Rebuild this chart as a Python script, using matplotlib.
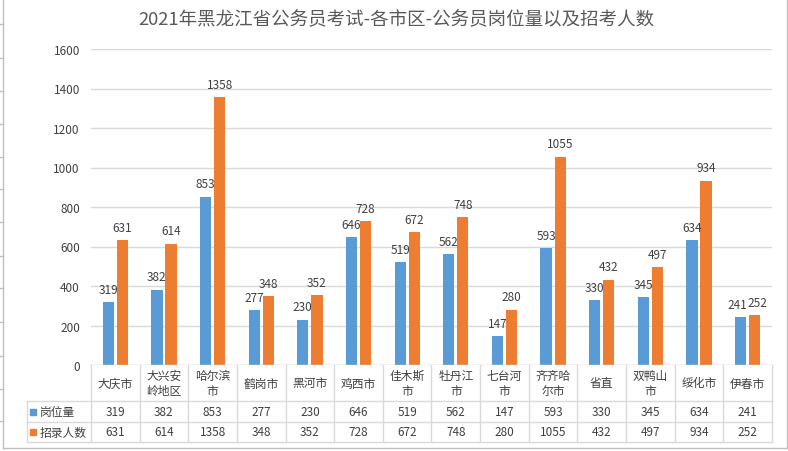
import numpy as np
import matplotlib.pyplot as plt

plt.rcParams['font.family'] = ['Noto Sans CJK SC', 'DejaVu Sans']

# 数据
cities = ['大庆市', '大兴安\n岭地区', '哈尔滨\n市', '鹤岗市', '黑河市', '鸡西市', '佳木斯\n市',
          '牡丹江\n市', '七台河\n市', '齐齐哈\n尔市', '省直', '双鸭山\n市', '绥化市', '伊春市']
gangwei = [319, 382, 853, 277, 230, 646, 519, 562, 147, 593, 330, 345, 634, 241]
zhaolu = [631, 614, 1358, 348, 352, 728, 672, 748, 280, 1055, 432, 497, 934, 252]
series_names = ['岗位量', '招录人数']
yticks = [0, 200, 400, 600, 800, 1000, 1200, 1400, 1600]

blue = '#5B9BD5'
orange = '#ED7D31'
grid = '#D9D9D9'
txt = '#404040'

W, H = 788, 452
left, right, y0, y1 = 91, 772, 366, 50

fig = plt.figure(figsize=(W / 100, H / 100), dpi=100)
ax = fig.add_axes([left / W, 1 - y0 / H, (right - left) / W, (y0 - y1) / H])

n = len(cities)
x = np.arange(n)
b1 = ax.bar(x - 0.145, gangwei, width=0.23, color=blue, zorder=3)
b2 = ax.bar(x + 0.145, zhaolu, width=0.23, color=orange, zorder=3)
for k, bars in enumerate((b1, b2)):
    for i, r in enumerate(bars):
        # 两个数值很接近时稍微错开
        dx = 0
        if abs(gangwei[i] - zhaolu[i]) < 30:
            dx = -2 if k == 0 else 2
        ax.annotate(str(int(r.get_height())), (r.get_x() + r.get_width() / 2, r.get_height()),
                    xytext=(dx, 4.5), textcoords='offset points', ha='center', va='bottom',
                    fontsize=8.5, color=txt)

ax.set_xlim(-0.5, n - 0.5)
ax.set_ylim(0, 1600)
ax.set_yticks(yticks)
ax.set_yticklabels([str(v) for v in yticks], fontsize=8.5, color=txt)
ax.tick_params(axis='y', length=0, pad=8)
ax.set_xticks([])
ax.grid(axis='y', color=grid, linewidth=1, zorder=0)
for s in ax.spines.values():
    s.set_visible(False)
ax.axhline(0, color=grid, linewidth=1, zorder=4)

# 外框
ov = fig.add_axes([0, 0, 1, 1], zorder=-1)
ov.set_xlim(0, W)
ov.set_ylim(H, 0)
ov.axis('off')
ov.plot([3, 3], [0, 449], color='#BFBFBF', lw=1)
ov.plot([3, 787], [449, 449], color='#BFBFBF', lw=1)
ov.plot([787, 787], [0, 449], color='#BFBFBF', lw=1)
for yy in [25, 59, 92, 125, 158, 190, 223, 257, 289, 323, 357, 390, 422]:
    ov.plot([0, 3], [yy, yy], color='#BFBFBF', lw=1)

# 数据表
ov2 = fig.add_axes([0, 0, 1, 1])
ov2.set_xlim(0, W)
ov2.set_ylim(H, 0)
ov2.axis('off')
cw = (right - left) / n
r1, r2, r3 = 402, 423, 443
for yy in (r1, r2, r3):
    ov2.plot([27, right], [yy, yy], color=grid, lw=1)
ov2.plot([27, 27], [r1, r3], color=grid, lw=1)
for i in range(n + 1):
    ov2.plot([left + i * cw] * 2, [y0, r3], color=grid, lw=1)
for i in range(n):
    cx = left + (i + 0.5) * cw
    ov2.text(cx, (y0 + r1) / 2, cities[i], ha='center', va='center', fontsize=8.5,
             color=txt, linespacing=1.25)
    ov2.text(cx, (r1 + r2) / 2, str(gangwei[i]), ha='center', va='center', fontsize=8.5,
             color=txt)
    ov2.text(cx, (r2 + r3) / 2, str(zhaolu[i]), ha='center', va='center', fontsize=8.5,
             color=txt)
for j, (name, c) in enumerate(zip(series_names, (blue, orange))):
    yc = (r1 + r2) / 2 if j == 0 else (r2 + r3) / 2
    ov2.add_patch(plt.Rectangle((30, yc - 3), 6, 6, color=c))
    ov2.text(40, yc, name, ha='left', va='center', fontsize=8.5, color=txt)

ov2.text(W / 2 + 2, 20, '2021年黑龙江省公务员考试-各市区-公务员岗位量以及招考人数',
         ha='center', va='center', fontsize=13.3, color='#595959')

fig.savefig('out.png', dpi=100)
